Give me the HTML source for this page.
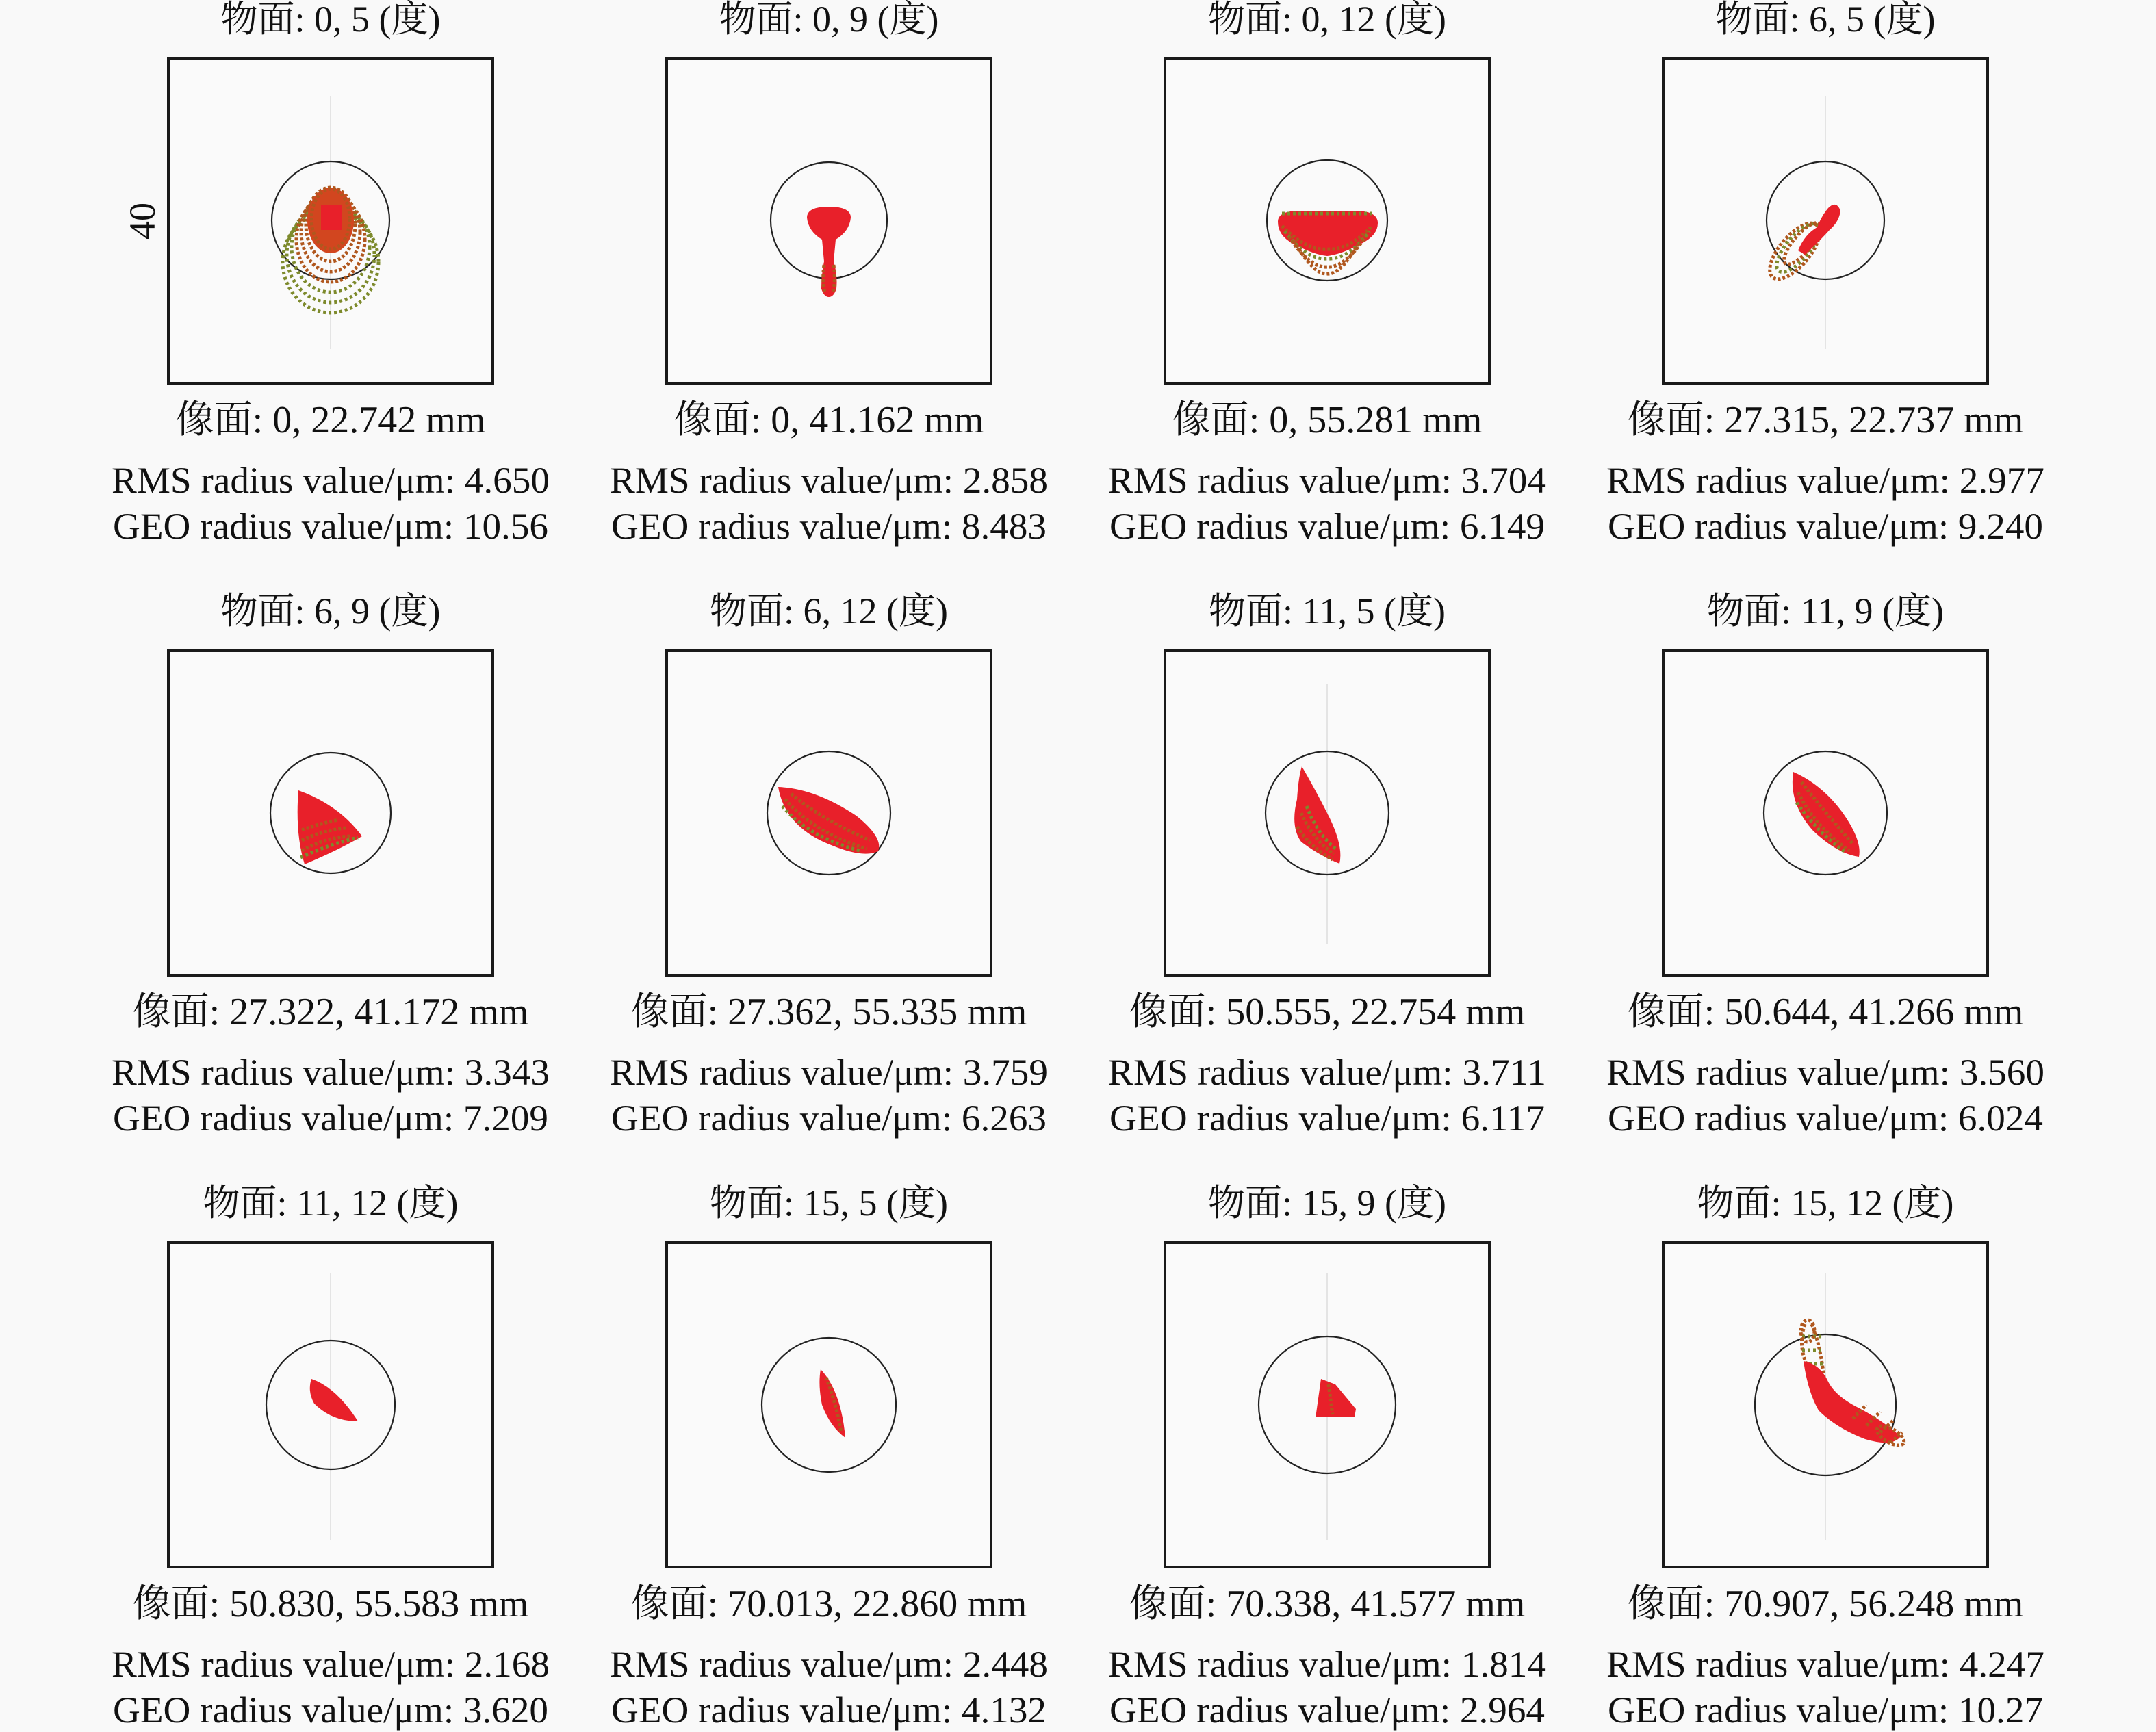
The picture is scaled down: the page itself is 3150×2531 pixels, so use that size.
<!DOCTYPE html>
<html><head><meta charset="utf-8"><style>
html,body{margin:0;padding:0;background:#f9f9f9;}
svg{display:block;}
text{font-family:"Liberation Serif","Noto Serif CJK SC","Noto Sans CJK SC",serif;font-size:54px;fill:#111;text-anchor:middle;}
.im{font-size:56px;}
.box{fill:#fafafa;stroke:#1a1a1a;stroke-width:4;}
.c{fill:none;stroke:#222;stroke-width:2.2;}
.v{stroke:#e4e4e4;stroke-width:2;}
.r{fill:#e8202a;}
.o{fill:none;stroke:#b0571e;stroke-width:5;stroke-dasharray:4 3;}
.g{fill:none;stroke:#7d8a2c;stroke-width:5;stroke-dasharray:4 4;}
</style></head><body>
<svg width="3150" height="2531" viewBox="0 0 3150 2531" xmlns="http://www.w3.org/2000/svg">
<rect width="3150" height="2531" fill="#f9f9f9"/>

<g>
<rect class="box" x="246" y="86" width="474" height="474"/>
<rect class="box" x="974" y="86" width="474" height="474"/>
<rect class="box" x="1702" y="86" width="474" height="474"/>
<rect class="box" x="2430" y="86" width="474" height="474"/>
<rect class="box" x="246" y="951" width="474" height="474"/>
<rect class="box" x="974" y="951" width="474" height="474"/>
<rect class="box" x="1702" y="951" width="474" height="474"/>
<rect class="box" x="2430" y="951" width="474" height="474"/>
<rect class="box" x="246" y="1816" width="474" height="474"/>
<rect class="box" x="974" y="1816" width="474" height="474"/>
<rect class="box" x="1702" y="1816" width="474" height="474"/>
<rect class="box" x="2430" y="1816" width="474" height="474"/>
</g>
<g class="v">
<line x1="483" y1="140" x2="483" y2="510"/><line x1="2667" y1="140" x2="2667" y2="510"/>
<line x1="1939" y1="1000" x2="1939" y2="1380"/>
<line x1="483" y1="1860" x2="483" y2="2250"/><line x1="1939" y1="1860" x2="1939" y2="2250"/><line x1="2667" y1="1860" x2="2667" y2="2250"/>
</g>

<text x="0" y="0" transform="translate(226,323) rotate(-90)">40</text>

<circle class="c" cx="483" cy="322" r="86"/>
<circle class="c" cx="1211" cy="322" r="85"/>
<circle class="c" cx="1939" cy="322" r="88"/>
<circle class="c" cx="2667" cy="322" r="86"/>
<circle class="c" cx="483" cy="1188" r="88"/>
<circle class="c" cx="1211" cy="1188" r="90"/>
<circle class="c" cx="1939" cy="1188" r="90"/>
<circle class="c" cx="2667" cy="1188" r="90"/>
<circle class="c" cx="483" cy="2053" r="94"/>
<circle class="c" cx="1211" cy="2053" r="98"/>
<circle class="c" cx="1939" cy="2053" r="100"/>
<circle class="c" cx="2667" cy="2053" r="103"/>

<!-- spot 1 -->
<g transform="translate(483,322)">
<ellipse class="g" cx="0" cy="61" rx="70" ry="74"/>
<ellipse class="g" cx="0" cy="50" rx="64" ry="70"/>
<ellipse class="g" cx="0" cy="39" rx="57" ry="66"/>
<ellipse class="o" cx="0" cy="28" rx="50" ry="62"/>
<ellipse class="o" cx="0" cy="17" rx="43" ry="58"/>
<ellipse class="o" cx="0" cy="6" rx="36" ry="54"/>
<ellipse fill="#d2461f" cx="0" cy="0" rx="34" ry="48"/>
<ellipse class="o" cx="0" cy="-2" rx="28" ry="44"/>
<rect class="r" x="-14" y="-22" width="30" height="36"/>
</g>
<!-- spot 2 -->
<g transform="translate(1211,322)">
<path class="r" d="M-32,-4 Q-32,-20 0,-20 Q32,-20 32,-4 Q30,16 10,28 L7,60 Q13,80 11,100 Q7,112 0,112 Q-7,112 -11,100 Q-11,80 -7,60 L-10,28 Q-30,16 -32,-4Z"/>
<path class="o" d="M-7,65 Q-10,90 -6,105 M7,65 Q10,90 6,105"/>
</g>
<!-- spot 3 -->
<g transform="translate(1939,322)">
<path class="r" d="M-72,2 Q-72,-14 -40,-14 L40,-14 Q74,-14 74,4 Q74,22 50,34 Q20,50 0,52 Q-20,50 -50,34 Q-72,22 -72,2Z"/>
<path class="o" d="M-66,8 Q-30,45 0,42 Q30,45 66,8"/>
<path class="g" d="M-62,16 Q-30,58 0,56 Q30,58 62,16"/>
<path class="o" d="M-56,24 Q-25,70 0,68 Q25,70 56,24"/>
<path class="o" d="M-48,30 Q-20,80 0,78 Q20,80 48,30"/>
<path class="g" d="M-66,-10 L66,-10"/>
</g>
<!-- spot 4 -->
<g transform="translate(2667,322)">
<ellipse class="o" cx="-45" cy="45" rx="50" ry="22" transform="rotate(-50 -45 45)"/>
<ellipse class="g" cx="-40" cy="40" rx="44" ry="17" transform="rotate(-50 -40 40)"/>
<ellipse class="o" cx="-34" cy="34" rx="38" ry="13" transform="rotate(-50 -34 34)"/>
<path class="r" d="M-40,44 Q-30,20 -12,10 Q-6,-6 4,-18 Q16,-30 22,-14 Q20,2 6,14 Q-10,32 -30,50Z"/>
</g>

<!-- spot 5 -->
<g transform="translate(483,1188)">
<path class="r" d="M-47,-33 Q12,-12 46,34 Q12,54 -38,75 Q-52,30 -47,-33Z"/>
<path class="o" d="M-42,55 Q-5,35 30,34 M-42,40 Q-10,25 22,22 M-42,25 Q-15,15 12,10"/>
<path class="g" d="M-44,65 Q0,45 40,36"/>
</g>
<!-- spot 6 -->
<g transform="translate(1211,1188)">
<path class="r" d="M-74,-38 Q-20,-36 40,4 Q80,36 72,56 Q50,66 6,48 Q-64,22 -74,-38Z"/>
<path class="o" d="M-64,-20 Q-20,30 55,52 M-55,-28 Q-10,10 60,40"/>
<path class="g" d="M-68,-10 Q-30,35 45,55"/>
</g>
<!-- spot 7 -->
<g transform="translate(1939,1188)">
<path class="r" d="M-37,-68 Q-16,-32 4,8 Q24,50 18,74 Q-12,62 -38,42 Q-54,20 -44,-20 Q-42,-52 -37,-68Z"/>
<path class="o" d="M-44,20 Q-25,50 8,68 M-38,0 Q-20,40 10,60"/>
<path class="g" d="M-30,-10 Q-15,30 12,52"/>
</g>
<!-- spot 8 -->
<g transform="translate(2667,1188)">
<path class="r" d="M-47,-60 Q-6,-42 24,-2 Q54,40 49,64 Q18,60 -18,26 Q-54,-14 -47,-60Z"/>
<path class="o" d="M-40,-30 Q-15,20 35,55 M-35,-45 Q0,0 40,45"/>
<path class="g" d="M-42,-15 Q-10,30 30,58"/>
</g>

<!-- spot 9 -->
<g transform="translate(483,2053)">
<path class="r" d="M-28,-38 Q8,-26 40,24 Q2,24 -24,-2 Q-34,-20 -28,-38Z"/>
</g>
<!-- spot 10 -->
<g transform="translate(1211,2053)">
<path class="r" d="M-12,-52 Q18,-20 24,48 Q2,32 -10,0 Q-16,-30 -12,-52Z"/>
<path class="o" d="M-4,-40 Q10,-5 18,40"/>
</g>
<!-- spot 11 -->
<g transform="translate(1939,2053)">
<path class="r" d="M-16,12 L-9,-38 L12,-30 L42,6 L40,18 L-16,18Z"/>
<path class="o" d="M2,-30 L8,14"/>
</g>
<!-- spot 12 -->
<g transform="translate(2667,2053)">
<path class="o" d="M-30,-118 Q-40,-90 -28,-60 Q-20,-40 -12,-20 M-20,-118 Q-8,-90 -2,-40"/>
<path class="g" d="M-34,-100 L-4,-100 M-34,-80 L-4,-80 M-32,-60 L0,-60"/>
<path class="r" d="M-32,-64 Q-8,-60 4,-34 Q14,-14 44,2 Q80,20 110,46 Q98,62 58,50 Q16,34 -10,8 Q-26,-20 -32,-64Z"/>
<path class="o" d="M40,20 L60,0 M60,30 L80,10 M80,40 L100,22 M95,55 L112,40"/>
<ellipse class="o" cx="95" cy="45" rx="22" ry="10" transform="rotate(30 95 45)"/>
<ellipse class="o" cx="-26" cy="-108" rx="10" ry="16"/>
</g>

<text x="483" y="46">物面: 0, 5 (度)</text>
<text x="1211" y="46">物面: 0, 9 (度)</text>
<text x="1939" y="46">物面: 0, 12 (度)</text>
<text x="2667" y="46">物面: 6, 5 (度)</text>
<text x="483" y="911">物面: 6, 9 (度)</text>
<text x="1211" y="911">物面: 6, 12 (度)</text>
<text x="1939" y="911">物面: 11, 5 (度)</text>
<text x="2667" y="911">物面: 11, 9 (度)</text>
<text x="483" y="1776">物面: 11, 12 (度)</text>
<text x="1211" y="1776">物面: 15, 5 (度)</text>
<text x="1939" y="1776">物面: 15, 9 (度)</text>
<text x="2667" y="1776">物面: 15, 12 (度)</text>

<text class="im" x="483" y="632">像面: 0, 22.742 mm</text>
<text class="im" x="1211" y="632">像面: 0, 41.162 mm</text>
<text class="im" x="1939" y="632">像面: 0, 55.281 mm</text>
<text class="im" x="2667" y="632">像面: 27.315, 22.737 mm</text>
<text class="im" x="483" y="1497">像面: 27.322, 41.172 mm</text>
<text class="im" x="1211" y="1497">像面: 27.362, 55.335 mm</text>
<text class="im" x="1939" y="1497">像面: 50.555, 22.754 mm</text>
<text class="im" x="2667" y="1497">像面: 50.644, 41.266 mm</text>
<text class="im" x="483" y="2362">像面: 50.830, 55.583 mm</text>
<text class="im" x="1211" y="2362">像面: 70.013, 22.860 mm</text>
<text class="im" x="1939" y="2362">像面: 70.338, 41.577 mm</text>
<text class="im" x="2667" y="2362">像面: 70.907, 56.248 mm</text>

<g>
<text x="483" y="720" textLength="640" lengthAdjust="spacingAndGlyphs">RMS radius value/μm: 4.650</text>
<text x="1211" y="720" textLength="640" lengthAdjust="spacingAndGlyphs">RMS radius value/μm: 2.858</text>
<text x="1939" y="720" textLength="640" lengthAdjust="spacingAndGlyphs">RMS radius value/μm: 3.704</text>
<text x="2667" y="720" textLength="640" lengthAdjust="spacingAndGlyphs">RMS radius value/μm: 2.977</text>
<text x="483" y="1585" textLength="640" lengthAdjust="spacingAndGlyphs">RMS radius value/μm: 3.343</text>
<text x="1211" y="1585" textLength="640" lengthAdjust="spacingAndGlyphs">RMS radius value/μm: 3.759</text>
<text x="1939" y="1585" textLength="640" lengthAdjust="spacingAndGlyphs">RMS radius value/μm: 3.711</text>
<text x="2667" y="1585" textLength="640" lengthAdjust="spacingAndGlyphs">RMS radius value/μm: 3.560</text>
<text x="483" y="2450" textLength="640" lengthAdjust="spacingAndGlyphs">RMS radius value/μm: 2.168</text>
<text x="1211" y="2450" textLength="640" lengthAdjust="spacingAndGlyphs">RMS radius value/μm: 2.448</text>
<text x="1939" y="2450" textLength="640" lengthAdjust="spacingAndGlyphs">RMS radius value/μm: 1.814</text>
<text x="2667" y="2450" textLength="640" lengthAdjust="spacingAndGlyphs">RMS radius value/μm: 4.247</text>
</g>
<g>
<text x="483" y="787" textLength="636" lengthAdjust="spacingAndGlyphs">GEO radius value/μm: 10.56</text>
<text x="1211" y="787" textLength="636" lengthAdjust="spacingAndGlyphs">GEO radius value/μm: 8.483</text>
<text x="1939" y="787" textLength="636" lengthAdjust="spacingAndGlyphs">GEO radius value/μm: 6.149</text>
<text x="2667" y="787" textLength="636" lengthAdjust="spacingAndGlyphs">GEO radius value/μm: 9.240</text>
<text x="483" y="1652" textLength="636" lengthAdjust="spacingAndGlyphs">GEO radius value/μm: 7.209</text>
<text x="1211" y="1652" textLength="636" lengthAdjust="spacingAndGlyphs">GEO radius value/μm: 6.263</text>
<text x="1939" y="1652" textLength="636" lengthAdjust="spacingAndGlyphs">GEO radius value/μm: 6.117</text>
<text x="2667" y="1652" textLength="636" lengthAdjust="spacingAndGlyphs">GEO radius value/μm: 6.024</text>
<text x="483" y="2517" textLength="636" lengthAdjust="spacingAndGlyphs">GEO radius value/μm: 3.620</text>
<text x="1211" y="2517" textLength="636" lengthAdjust="spacingAndGlyphs">GEO radius value/μm: 4.132</text>
<text x="1939" y="2517" textLength="636" lengthAdjust="spacingAndGlyphs">GEO radius value/μm: 2.964</text>
<text x="2667" y="2517" textLength="636" lengthAdjust="spacingAndGlyphs">GEO radius value/μm: 10.27</text>
</g>
</svg>
</body></html>
